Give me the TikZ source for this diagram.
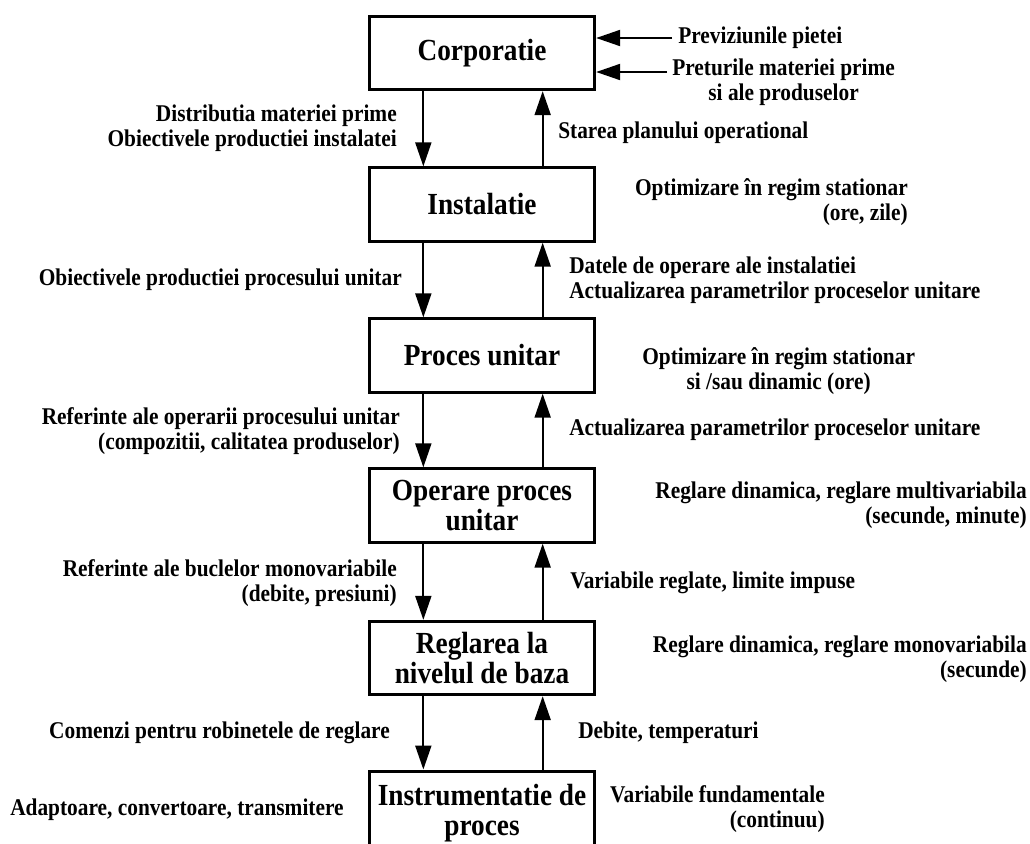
\documentclass[tikz,border=0pt]{standalone}
\usepackage{fontspec}
\setmainfont[FakeStretch=0.89]{Liberation Serif}
\usepackage{tikz}
\usetikzlibrary{arrows.meta,positioning}
\tikzset{
  every picture/.style={line join=miter, >={Triangle[width=12pt,length=18pt]}},
  level/.style={draw, line width=2.25pt, minimum width=169pt, minimum height=55pt, inner sep=0pt,
    align=center, font=\bfseries\fontsize{23}{22}\selectfont},
  lbl/.style={inner sep=0pt, font=\bfseries\fontsize{18}{19}\selectfont},
  arr/.style={->, line width=1.5pt},
}

\begin{document}
\begin{tikzpicture}[x=0.75pt,y=-0.75pt]
\clip (0,0) rectangle (1030,843);
\node[level] (corp) at (482,53) {Corporatie};
\node[level] (inst) at (482,204.5) {Instalatie};
\node[level] (proc) at (482,355.5) {Proces unitar};
\node[level] (oper) at (482,505.5) {Operare proces\\unitar};
\node[level] (regl) at (482,658) {Reglarea la\\nivelul de baza};
\node[level,minimum height=63pt] (instr) at (482,813) {Instrumentatie de\\proces};

\coordinate (prevend) at (672,38);
\coordinate (pretend) at (667,72);
\node[lbl,anchor=west] (prev) at (678,38) {Previziunile pietei};
\node[lbl,anchor=west,align=center] (pret) at (672,82) {Preturile materiei prime\\si ale produselor};
\draw[arr] (prevend) -- (corp.east |- prevend);
\draw[arr] (pretend) -- (corp.east |- pretend);

\draw[arr] ([xshift=-44pt]corp.south) -- ([xshift=-44pt]inst.north);
\draw[arr] ([xshift=45.5pt]inst.north) -- ([xshift=45.5pt]corp.south);
\draw[arr] ([xshift=-44pt]inst.south) -- ([xshift=-44pt]proc.north);
\draw[arr] ([xshift=45.5pt]proc.north) -- ([xshift=45.5pt]inst.south);
\draw[arr] ([xshift=-44pt]proc.south) -- ([xshift=-44pt]oper.north);
\draw[arr] ([xshift=45.5pt]oper.north) -- ([xshift=45.5pt]proc.south);
\draw[arr] ([xshift=-44pt]oper.south) -- ([xshift=-44pt]regl.north);
\draw[arr] ([xshift=45.5pt]regl.north) -- ([xshift=45.5pt]oper.south);
\draw[arr] ([xshift=-44pt]regl.south) -- ([xshift=-44pt]instr.north);
\draw[arr] ([xshift=45.5pt]instr.north) -- ([xshift=45.5pt]regl.south);

\node[lbl,anchor=east,align=right] (distr) at (397,128) {Distributia materiei prime\\Obiectivele productiei instalatei};
\node[lbl,anchor=west] (starea) at (558,133) {Starea planului operational};
\node[lbl,anchor=east,align=right] (optinst) at (908,202) {Optimizare în regim stationar\\(ore, zile)};
\node[lbl,anchor=east] (obproc) at (402,280) {Obiectivele productiei procesului unitar};
\node[lbl,anchor=west,align=left] (datele) at (569,280) {Datele de operare ale instalatiei\\Actualizarea parametrilor proceselor unitare};
\node[lbl,anchor=west,align=center] (optproc) at (642,371) {Optimizare în regim stationar\\si /sau dinamic (ore)};
\node[lbl,anchor=east,align=right] (refop) at (400,431) {Referinte ale operarii procesului unitar\\(compozitii, calitatea produselor)};
\node[lbl,anchor=west] (actual) at (569,430) {Actualizarea parametrilor proceselor unitare};
\node[lbl,anchor=east,align=right] (reglmulti) at (1027,505) {Reglare dinamica, reglare multivariabila\\(secunde, minute)};
\node[lbl,anchor=east,align=right] (refbucl) at (397,583) {Referinte ale buclelor monovariabile\\(debite, presiuni)};
\node[lbl,anchor=west] (varregl) at (570,583) {Variabile reglate, limite impuse};
\node[lbl,anchor=east,align=right] (reglmono) at (1027,659) {Reglare dinamica, reglare monovariabila\\(secunde)};
\node[lbl,anchor=east] (comenzi) at (390,733) {Comenzi pentru robinetele de reglare};
\node[lbl,anchor=west] (debite) at (578,733) {Debite, temperaturi};
\node[lbl,anchor=west] (adapt) at (10,810) {Adaptoare, convertoare, transmitere};
\node[lbl,anchor=east,align=right] (varfund) at (825,809) {Variabile fundamentale\\(continuu)};
\end{tikzpicture}
\end{document}
